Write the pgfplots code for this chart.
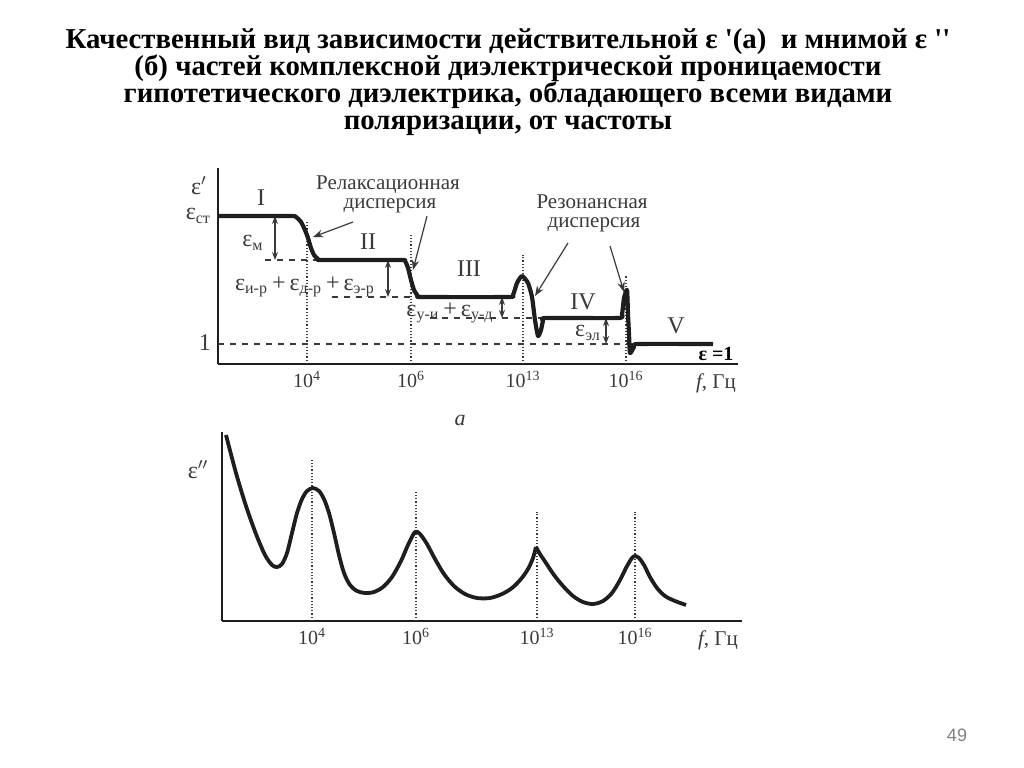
\documentclass[border=0pt]{standalone}
\usepackage{amsmath}
\usepackage{fontspec}
\setmainfont{Liberation Serif}[Ligatures=TeXOff]
\newfontfamily\sans{Liberation Sans}
\usepackage{pgfplots}
\pgfplotsset{compat=1.18}
\usetikzlibrary{arrows.meta}

\definecolor{ink}{HTML}{1E1E1E}
\definecolor{lab}{HTML}{3A3A3A}
\newcommand\eps[1]{ε$_{\text{#1}}$}
\newcommand\pw[2]{#1\textsuperscript{#2}}

\pgfplotsset{
  chart/.style={
    scale only axis,
    axis lines=left,
    axis line style={-, ink, line width=1.2pt},
    xtick={307,411,523,626},
    xticklabels={\pw{10}{4},\pw{10}{6},\pw{10}{13},\pw{10}{16}},
    major tick length=0pt,
    tick label style={font=\fontsize{10}{12}\selectfont, text=lab},
    clip=false,
  },
}
\tikzset{
  curve/.style={ink, line width=1.9pt, smooth, tension=0.5, line join=round},
  guide/.style={lab, densely dotted, line width=0.6pt},
  level/.style={lab, dashed, line width=0.6pt},
  gap/.style={lab, line width=0.6pt, {Stealth[length=4pt]}-{Stealth[length=4pt]}},
  pointer/.style={lab, line width=0.6pt, -{Stealth[length=5pt]}},
}

\begin{document}
\begin{tikzpicture}[x=0.5pt, y=-0.5pt]
\path (0,0) rectangle (1024,767);

% title
\node[align=center, font=\fontsize{14.4}{13.5}\selectfont\bfseries] at (508,82)
  {Качественный вид зависимости действительной ε '(а)\ \ и мнимой ε ''\\
   (б) частей комплексной диэлектрической проницаемости\\
   гипотетического диэлектрика, обладающего всеми видами\\
   поляризации, от частоты};

% (a) real part
\begin{axis}[chart,
  at={(109pt,-182pt)}, anchor=south west,
  width=260pt, height=98pt,
  xmin=218, xmax=738, ymin=0, ymax=196,
  ytick={148,21}, yticklabels={\eps{ст},1},
  yticklabel style={font=\fontsize{12}{12}\selectfont},
]
\draw[guide] (307,0) -- (307,142);
\draw[guide] (411,0) -- (411,129);
\draw[guide] (523,0) -- (523,109);
\draw[guide] (626,0) -- (626,89);
\draw[level] (265,104) -- (320,104);
\draw[level] (332,67) -- (420,67);
\draw[level] (430,46) -- (545,46);
\draw[level] (218,20) -- (632,20);
\draw[gap] (275,148) -- (275,104);
\draw[gap] (388,104) -- (388,67);
\draw[gap] (502,67) -- (502,46);
\draw[gap] (606,46) -- (606,20);

\addplot[curve, line width=2.1pt, tension=0.35, no marks] coordinates {
 (218,148)(290,148)(296,147)(301,142)(305,134)(308,126)(311,116)(314,109)
 (318,105)(322,104)(400,104)(405,103)(408,96)(411,84)(414,74)(418,68)
 (422,67)(508,67)(513,69)(517,81)(522,88)(528,81)(532,67)(535,44)(538,28)
 (541,34)(543,43)(546,46)(618,46)(622,50)(624,66)(627,74)(628,50)(629,30)
 (630,11)(634,17)(638,20)(713,20)
};

\begin{scope}[every node/.style={text=lab, font=\fontsize{12}{12}\selectfont}]
\node at (261,166) {I};
\node at (368,122) {II};
\node at (469,95) {III};
\node at (583,62) {IV};
\node at (676,38) {V};
\node at (253,121) {\eps{м}};
\node at (305,77) {\eps{и-р}\,+\,\eps{д-р}\,+\,\eps{э-р}};
\node at (450,51) {\eps{у-и}\,+\,\eps{у-д}};
\node at (588,31) {\eps{эл}};
\node[font=\fontsize{10.5}{12}\selectfont] at (388,179) {Релаксационная};
\node[font=\fontsize{10.5}{12}\selectfont] at (390,158) {дисперсия};
\node[font=\fontsize{10.5}{12}\selectfont] at (592,162) {Резонансная};
\node[font=\fontsize{10.5}{12}\selectfont] at (594,139) {дисперсия};
\node[font=\fontsize{10.5}{12}\selectfont] at (716,-19) {\textit{f}, Гц};
\node at (199,178) {ε$'$};
\end{scope}
\node[font=\fontsize{10}{12}\selectfont\bfseries] at (716,10) {ε =1};
\draw[pointer] (353,142) -- (313,127);
\draw[pointer] (427,148) -- (413,94);
\draw[pointer] (568,121) -- (535,68);
\draw[pointer] (610,118) -- (624,72);
\end{axis}

\node[text=lab, font=\fontsize{11}{12}\selectfont\itshape] at (460,420) {а};

% (b) imaginary part
\begin{axis}[chart,
  at={(111pt,-310.5pt)}, anchor=south west,
  width=260pt, height=94.5pt,
  xmin=222, xmax=742, ymin=0, ymax=189,
  xtick={312,416,537,635},
  ytick=\empty,
]
\draw[guide] (312,0) -- (312,163);
\draw[guide] (416,0) -- (416,130);
\draw[guide] (537,0) -- (537,109);
\draw[guide] (635,0) -- (635,109);

\addplot[curve, no marks] coordinates {
 (226,186)(236,148)(246,115)(256,87)(265,66)(272,56)(277,54)(282,57)
 (287,68)(292,88)(297,108)(302,122)(307,130)(313,133)(319,130)(324,122)
 (329,108)(334,88)(339,66)(344,48)(350,36)(357,30)(365,28)(374,29)(383,34)
 (392,44)(401,60)(408,76)(415,89)(420,87)(427,77)(435,62)(444,47)(454,35)
 (465,27)(477,23)(490,23)(502,27)(512,33)(521,42)(528,52)(533,63)(536,74)
};
\addplot[curve, no marks] coordinates {
 (536,74)(540,67)(546,58)(554,46)(563,35)(573,25)(583,19)(593,17)(603,20)
 (612,28)(620,41)(627,55)(632,63)(635,65)(639,63)(644,56)(650,44)(657,33)
 (665,25)(675,20)(686,16)
};
\node[text=lab, font=\fontsize{10.5}{12}\selectfont] at (718,-19) {\textit{f}, Гц};
\node[text=lab, font=\fontsize{12}{12}\selectfont] at (198,151) {ε$''$};
\end{axis}

\node[text=gray, font=\sans\fontsize{9}{10}\selectfont] at (957,735) {49};
\end{tikzpicture}
\end{document}
